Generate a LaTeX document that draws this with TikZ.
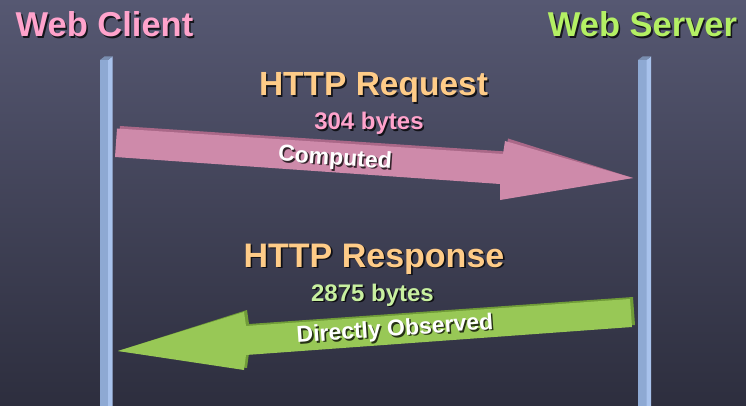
\documentclass[tikz,border=0pt]{standalone}
\usepackage{fontspec}
\setmainfont{Liberation Sans}
\usetikzlibrary{calc}

\definecolor{bgtop}{RGB}{86,88,114}
\definecolor{bgbot}{RGB}{45,46,62}
\definecolor{barfront}{RGB}{142,169,211}
\definecolor{barside}{RGB}{168,194,236}
\definecolor{bartop}{RGB}{122,142,176}
\definecolor{clientpink}{RGB}{255,163,204}
\definecolor{servergreen}{RGB}{180,240,100}
\definecolor{httporange}{RGB}{255,204,136}
\definecolor{respgreen}{RGB}{200,240,160}
\definecolor{reqfill}{RGB}{206,138,170}
\definecolor{reqedge}{RGB}{170,104,136}
\definecolor{respfill}{RGB}{152,200,86}
\definecolor{respedge}{RGB}{112,156,56}

\tikzset{
  txt/.style={inner sep=0pt, anchor=base, font=\bfseries},
  shadowtxt/.style={txt, text=black, opacity=0.75},
}

% text with a dark drop shadow: options, name, position, colour, size, text
\newcommand\shadedlabel[6]{%
  \node[shadowtxt, #1, font=\bfseries\fontsize{#5}{#5}\selectfont]
    at ($(#3)+(1.6,1.6)$) {#6};
  \node[txt, #1, text=#4, font=\bfseries\fontsize{#5}{#5}\selectfont]
    (#2) at (#3) {#6};}

% a lifeline bar with a bevelled top: left x, right x of front face, depth, top y
\newcommand\lifebar[4]{%
  \fill[barfront] (#1,#4) rectangle (#2,406);
  \fill[barside] (#2,#4) -- ++(#3,-3.5) -- (#2+#3,406) -- (#2,406) -- cycle;
  \fill[bartop] (#1,#4) -- ++(#3,-3.5) -- ++(#2-#1,0) -- (#2,#4) -- cycle;}

\begin{document}
\begin{tikzpicture}[x=1pt,y=-1pt]
  % backdrop
  \fill[top color=bgtop, bottom color=bgbot] (0,0) rectangle (746,406);
  \useasboundingbox (0,0) rectangle (746,406);

  % lifelines
  \lifebar{100}{108}{4.5}{60}
  \lifebar{638}{646.5}{4.5}{60}

  % request arrow, client -> server
  \coordinate (reqtail) at (116,143);
  \coordinate (reqtip) at (633,178);
  \begin{scope}[shift={(3,-2.5)}]
    \fill[reqedge] (117,128.5) -- (503,154) -- (505,141) -- (reqtip)
      -- (500,200) -- (500,184) -- (115,157) -- cycle;
  \end{scope}
  \fill[reqfill] (117,128.5) -- (503,154) -- (505,141) -- (reqtip)
    -- (500,200) -- (500,184) -- (115,157) -- cycle;

  % response arrow, server -> client
  \coordinate (resptail) at (631,313);
  \coordinate (resptip) at (118,351);
  \begin{scope}[shift={(3,-2)}]
    \fill[respedge] (630,299) -- (246,326) -- (244,312) -- (resptip)
      -- (244,370) -- (246,355) -- (632,327) -- cycle;
  \end{scope}
  \fill[respfill] (630,299) -- (246,326) -- (244,312) -- (resptip)
    -- (244,370) -- (246,355) -- (632,327) -- cycle;

  % titles
  \shadedlabel{}{client}{104.5,37}{clientpink}{34.5}{Web Client}
  \shadedlabel{}{server}{642.5,37}{servergreen}{34.5}{Web Server}

  % message labels
  \shadedlabel{}{req}{373.5,96}{httporange}{33.5}{HTTP Request}
  \shadedlabel{}{reqsize}{369,130}{clientpink}{24}{304 bytes}
  \shadedlabel{}{resp}{374,267}{httporange}{34}{HTTP Response}
  \shadedlabel{}{respsize}{372.5,301}{respgreen}{24}{2875 bytes}

  % labels riding on the arrows
  \shadedlabel{anchor=center, rotate=-4}{reqnote}{335,159}{white}{23}{Computed}
  \shadedlabel{anchor=center, rotate=4}{respnote}{395,330}{white}{23}{Directly Observed}
\end{tikzpicture}
\end{document}
